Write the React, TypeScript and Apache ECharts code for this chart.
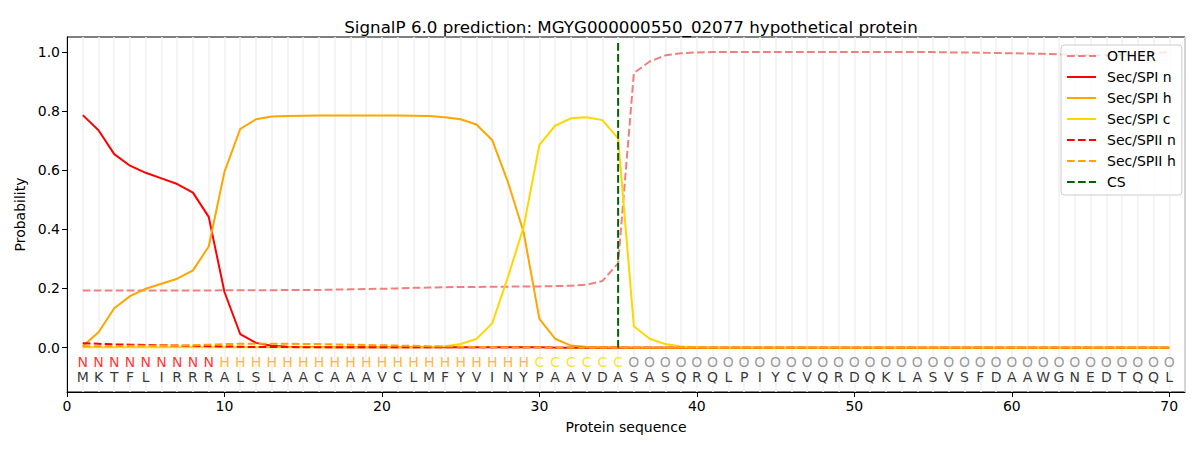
import React, { useEffect, useRef } from "react";
import * as echarts from "echarts";

const sequence = "MKTFLIRRRALSLAACAAAVCLMFYVINYPAAVDASASQRQLPIYCVQRDQKLASVSFDAAWGNEDTQQL";
const regionLabels = "NNNNNNNNNHHHHHHHHHHHHHHHHHHHHCCCCCCOOOOOOOOOOOOOOOOOOOOOOOOOOOOOOOOOOO";
const positions = sequence.split("").map((_, i) => i + 1);

const otherProb = [
  0.193, 0.193, 0.193, 0.193, 0.193, 0.193, 0.193, 0.193, 0.193, 0.194,
  0.194, 0.194, 0.194, 0.195, 0.195, 0.195, 0.196, 0.197, 0.198, 0.199,
  0.200, 0.202, 0.203, 0.204, 0.205, 0.205, 0.206, 0.206, 0.207, 0.207,
  0.208, 0.209, 0.213, 0.225, 0.285, 0.928, 0.967, 0.988, 0.995, 0.998,
  0.999, 0.999, 0.999, 0.999, 0.999, 0.999, 0.999, 0.999, 0.999, 0.999,
  0.999, 0.999, 0.999, 0.999, 0.999, 0.998, 0.998, 0.997, 0.996, 0.995,
  0.994, 0.993, 0.991, 0.990, 0.989, 0.988, 0.989, 0.992, 0.995, 0.999,
];
const spiN = [
  0.786, 0.735, 0.654, 0.615, 0.591, 0.572, 0.553, 0.524, 0.442, 0.188,
  0.046, 0.016, 0.006, 0.003, 0.002, 0.002, 0.001, 0.001, 0.001, 0.001,
  0.001, 0.001, 0.001, 0.001, 0.001, 0.001, 0.001, 0.001, 0.001, 0.001,
  0, 0, 0, 0, 0, 0, 0, 0, 0, 0,
  0, 0, 0, 0, 0, 0, 0, 0, 0, 0,
  0, 0, 0, 0, 0, 0, 0, 0, 0, 0,
  0, 0, 0, 0, 0, 0, 0, 0, 0, 0,
];
const spiH = [
  0.005, 0.052, 0.133, 0.174, 0.199, 0.216, 0.233, 0.261, 0.342, 0.594,
  0.739, 0.772, 0.781, 0.783, 0.784, 0.785, 0.785, 0.785, 0.785, 0.785,
  0.785, 0.784, 0.783, 0.779, 0.772, 0.754, 0.702, 0.560, 0.390, 0.097,
  0.030, 0.007, 0.002, 0.001, 0.001, 0, 0, 0, 0, 0,
  0, 0, 0, 0, 0, 0, 0, 0, 0, 0,
  0, 0, 0, 0, 0, 0, 0, 0, 0, 0,
  0, 0, 0, 0, 0, 0, 0, 0, 0, 0,
];
const spiC = [
  0.001, 0.001, 0.001, 0.001, 0.001, 0.001, 0.001, 0.001, 0.001, 0.001,
  0.001, 0.001, 0.001, 0.001, 0.001, 0.001, 0.001, 0.001, 0.001, 0.001,
  0.001, 0.001, 0.002, 0.005, 0.012, 0.029, 0.082, 0.238, 0.408, 0.685,
  0.750, 0.775, 0.779, 0.769, 0.707, 0.072, 0.030, 0.012, 0.004, 0.001,
  0, 0, 0, 0, 0, 0, 0, 0, 0, 0,
  0, 0, 0, 0, 0, 0, 0, 0, 0, 0,
  0, 0, 0, 0, 0, 0, 0, 0, 0, 0,
];
const spiiN = [
  0.015, 0.013, 0.011, 0.010, 0.009, 0.008, 0.007, 0.006, 0.005, 0.004,
  0.003, 0.002, 0.002, 0.002, 0.001, 0.001, 0.001, 0.001, 0.001, 0.001,
  0.001, 0.001, 0.001, 0.001, 0.001, 0.001, 0.001, 0.001, 0.001, 0.001,
  0, 0, 0, 0, 0, 0, 0, 0, 0, 0,
  0, 0, 0, 0, 0, 0, 0, 0, 0, 0,
  0, 0, 0, 0, 0, 0, 0, 0, 0, 0,
  0, 0, 0, 0, 0, 0, 0, 0, 0, 0,
];
const spiiH = [
  0.004, 0.005, 0.005, 0.006, 0.006, 0.007, 0.007, 0.008, 0.010, 0.012,
  0.013, 0.013, 0.013, 0.013, 0.012, 0.012, 0.011, 0.010, 0.009, 0.008,
  0.007, 0.006, 0.005, 0.004, 0.003, 0.002, 0.002, 0.001, 0.001, 0.001,
  0, 0, 0, 0, 0, 0, 0, 0, 0, 0,
  0, 0, 0, 0, 0, 0, 0, 0, 0, 0,
  0, 0, 0, 0, 0, 0, 0, 0, 0, 0,
  0, 0, 0, 0, 0, 0, 0, 0, 0, 0,
];
const csPosition = 35;
const csRange = [0, 1.035];
const xTicks = [0, 10, 20, 30, 40, 50, 60, 70];
const yTicks = [0, 0.2, 0.4, 0.6, 0.8, 1.0];
const regionRowY = -0.049;
const aaRowY = -0.1;

const regionColors: Record<string, string> = {
  N: "#ff0000",
  H: "#ffa500",
  C: "#ffd700",
  O: "#808080",
};

const FONT = "DejaVu Sans";
const DASH = [7.7, 3.3];

function lineSeries(name: string, values: number[], color: string, dashed: boolean) {
  return {
    type: "line",
    name,
    data: values.map((v, i) => [positions[i], v]),
    symbol: "none",
    showSymbol: false,
    lineStyle: { color, width: 2, type: dashed ? DASH : "solid" },
    itemStyle: { color },
    silent: true,
  };
}

export default function App() {
  const ref = useRef<HTMLDivElement>(null);

  useEffect(() => {
    if (!ref.current) return;
    const chart = echarts.init(ref.current, undefined, { renderer: "svg" });
    const axisText = { fontSize: 14, color: "#000", fontFamily: FONT };
    chart.setOption({
      animation: false,
      title: {
        text: "SignalP 6.0 prediction: MGYG000000550_02077 hypothetical protein",
        left: 626,
        textAlign: "center",
        top: 13,
        textStyle: { fontSize: 16.7, fontWeight: "normal", color: "#000", fontFamily: FONT },
      },
      grid: {
        left: 67,
        right: 15,
        top: 37,
        bottom: 58,
        show: true,
        borderColor: "#000",
        borderWidth: 1,
      },
      legend: {
        orient: "vertical",
        left: 1061,
        top: 45,
        data: ["OTHER", "Sec/SPI n", "Sec/SPI h", "Sec/SPI c", "Sec/SPII n", "Sec/SPII h", "CS"],
        itemWidth: 29,
        itemHeight: 14,
        itemGap: 7,
        padding: [4, 6, 6, 5],
        backgroundColor: "rgba(255,255,255,0.8)",
        borderColor: "#cccccc",
        borderWidth: 1,
        borderRadius: 3,
        itemStyle: { opacity: 0 },
        textStyle: { fontSize: 14, color: "#000", fontFamily: FONT, padding: [0, 0, 0, 6] },
      },
      xAxis: [
        {
          type: "value",
          min: 0,
          max: 71,
          position: "bottom",
          axisLine: { show: true, onZero: false, lineStyle: { color: "#000", width: 1 } },
          axisTick: { show: true, length: 5, customValues: xTicks, lineStyle: { color: "#000" } },
          axisLabel: { ...axisText, margin: 7, customValues: xTicks },
          splitLine: { show: false },
          name: "Protein sequence",
          nameLocation: "middle",
          nameGap: 28,
          nameTextStyle: axisText,
        },
        {
          type: "value",
          min: 0,
          max: 71,
          interval: 1,
          position: "bottom",
          axisLine: { show: false },
          axisTick: { show: false },
          axisLabel: { show: false },
          splitLine: { show: true, lineStyle: { color: "#f1f1f1", width: 1.5 } },
        },
      ],
      yAxis: {
        type: "value",
        min: -0.15,
        max: 1.05,
        axisLine: { show: true, onZero: false, lineStyle: { color: "#000", width: 1 } },
        axisTick: { show: true, length: 5, customValues: yTicks, lineStyle: { color: "#000" } },
        axisLabel: {
          ...axisText,
          margin: 7,
          customValues: yTicks,
          formatter: (v: number) => v.toFixed(1),
        },
        splitLine: { show: false },
        name: "Probability",
        nameLocation: "middle",
        nameGap: 38,
        nameRotate: 90,
        nameTextStyle: axisText,
      },
      series: [
        lineSeries("OTHER", otherProb, "#f08080", true),
        lineSeries("Sec/SPI n", spiN, "#ff0000", false),
        lineSeries("Sec/SPI h", spiH, "#ffa500", false),
        lineSeries("Sec/SPI c", spiC, "#ffd700", false),
        lineSeries("Sec/SPII n", spiiN, "#ff0000", true),
        lineSeries("Sec/SPII h", spiiH, "#ffa500", true),
        {
          type: "line",
          name: "CS",
          data: csRange.map((y) => [csPosition, y]),
          symbol: "none",
          showSymbol: false,
          lineStyle: { color: "#006400", width: 2, type: DASH },
          itemStyle: { color: "#006400" },
          silent: true,
        },
        {
          type: "scatter",
          name: "regions",
          silent: true,
          symbolSize: 1,
          itemStyle: { color: "rgba(0,0,0,0)" },
          data: regionLabels.split("").map((r, i) => ({
            value: [positions[i], regionRowY],
            name: r,
            label: { color: regionColors[r] },
          })),
          label: {
            show: true,
            position: "inside",
            formatter: "{b}",
            fontSize: 14,
            fontFamily: FONT,
          },
        },
        {
          type: "scatter",
          name: "residues",
          silent: true,
          symbolSize: 1,
          itemStyle: { color: "rgba(0,0,0,0)" },
          data: sequence.split("").map((aa, i) => ({
            value: [positions[i], aaRowY],
            name: aa,
          })),
          label: {
            show: true,
            position: "inside",
            formatter: "{b}",
            fontSize: 14,
            color: "#000",
            fontFamily: FONT,
          },
        },
      ],
    });
    return () => chart.dispose();
  }, []);

  return (
    <div
      ref={ref}
      style={{ position: "fixed", left: 0, top: 0, width: 1200, height: 450, background: "#fff" }}
    />
  );
}
